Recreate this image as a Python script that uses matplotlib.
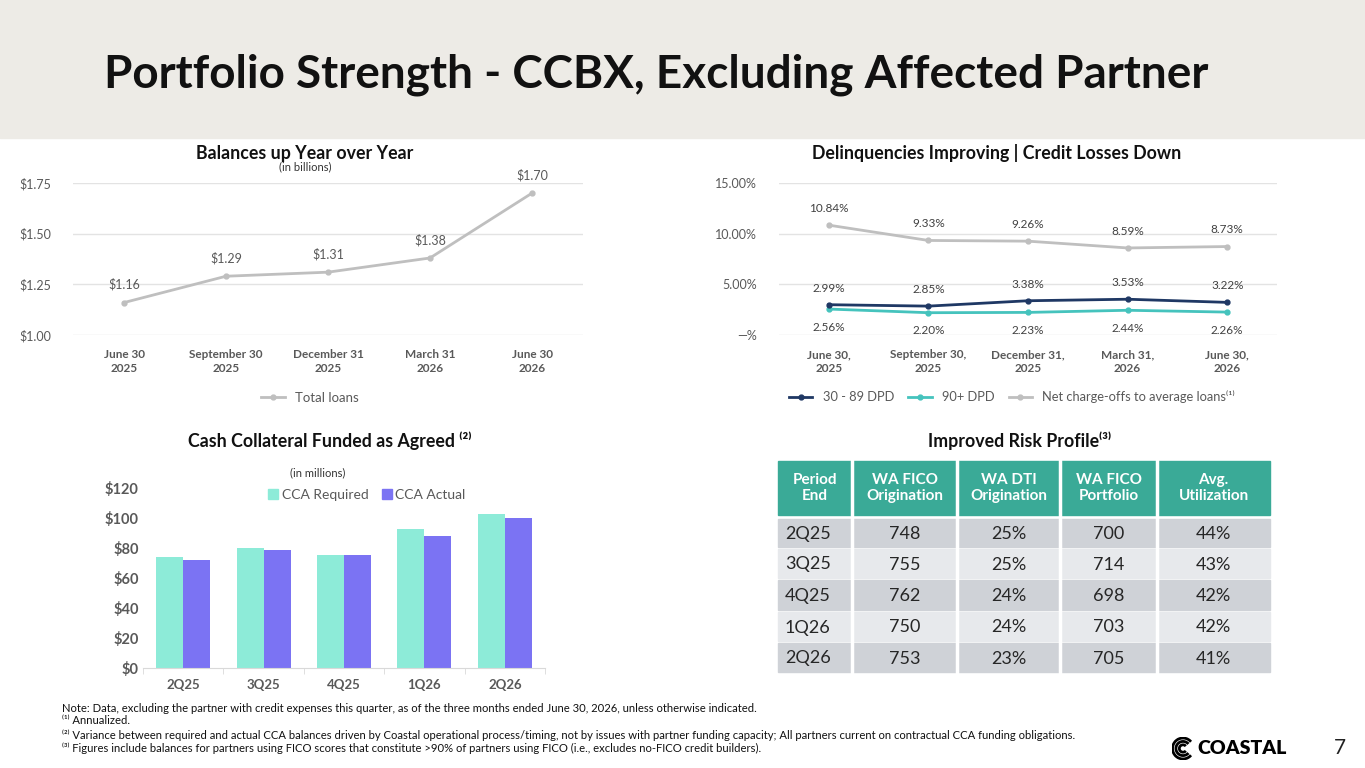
import numpy as np
import matplotlib
matplotlib.use('Agg')
from matplotlib import pyplot as plt
from matplotlib.patches import Rectangle, Arc, Patch
from matplotlib.lines import Line2D

plt.rcParams['font.family'] = ['Lato', 'DejaVu Sans']

# ---- data ----
bal_dates = ['June 30\n2025', 'September 30\n2025', 'December 31\n2025', 'March 31\n2026', 'June 30\n2026']
total_loans = [1.16, 1.29, 1.31, 1.38, 1.70]

dq_dates = ['June 30,\n2025', 'September 30,\n2025', 'December 31,\n2025', 'March 31,\n2026', 'June 30,\n2026']
dpd_30_89 = [2.99, 2.85, 3.38, 3.53, 3.22]
dpd_90 = [2.56, 2.20, 2.23, 2.44, 2.26]
nco = [10.84, 9.33, 9.26, 8.59, 8.73]

quarters = ['2Q25', '3Q25', '4Q25', '1Q26', '2Q26']
cca_required = [74, 80, 75.5, 93, 103]
cca_actual = [72, 78.5, 75.5, 88, 100]

tbl_header = ['Period\nEnd', 'WA FICO\nOrigination', 'WA DTI\nOrigination', 'WA FICO\nPortfolio', 'Avg.\nUtilization']
wa_fico_orig = ['748', '755', '762', '750', '753']
wa_dti_orig = ['25%', '25%', '24%', '24%', '23%']
wa_fico_port = ['700', '714', '698', '703', '705']
avg_util = ['44%', '43%', '42%', '42%', '41%']

footnotes = [
    'Note: Data, excluding the partner with credit expenses this quarter, as of the three months ended June 30, 2026, unless otherwise indicated.',
    '\u207d\u00b9\u207e Annualized.',
    '\u207d\u00b2\u207e Variance between required and actual CCA balances driven by Coastal operational process/timing, not by issues with partner funding capacity; All partners current on contractual CCA funding obligations.',
    '\u207d\u00b3\u207e Figures include balances for partners using FICO scores that constitute >90% of partners using FICO (i.e., excludes no-FICO credit builders).',
]

W, H = 1365, 768
fig = plt.figure(figsize=(W / 100, H / 100), dpi=100)
fig.patch.set_facecolor('white')


def ax_px(l, t, r, b):
    return fig.add_axes([l / W, 1 - b / H, (r - l) / W, (b - t) / H])


def txt(x, y, s, **kw):
    return fig.text(x / W, 1 - y / H, s, **kw)


# header band
fig.patches.append(Rectangle((0, 1 - 138 / H), 1, 138 / H, transform=fig.transFigure,
                             color='#EDEBE6', zorder=0))
txt(104, 75, 'Portfolio Strength - CCBX, Excluding Affected Partner', fontsize=33,
    fontweight='bold', color='#111111', va='center', ha='left')

grey_txt = '#595959'

# ---- chart 1: balances ----
ax1 = ax_px(73, 183, 583, 335)
x = np.arange(len(bal_dates))
ax1.plot(x, total_loans, color='#BFBFBF', lw=2, marker='o', ms=3.5, label='Total loans', clip_on=False)
for xi, v in zip(x, total_loans):
    ax1.annotate('$%.2f' % v, (xi, v), xytext=(0, 13), textcoords='offset points',
                 ha='center', va='center', fontsize=9, color=grey_txt)
ax1.set_xlim(-0.5, 4.5)
ax1.set_ylim(1.0, 1.75)
ax1.set_yticks([1.0, 1.25, 1.5, 1.75])
ax1.set_yticklabels(['$1.00', '$1.25', '$1.50', '$1.75'], fontsize=9, color=grey_txt)
ax1.set_xticks(x)
ax1.set_xticklabels(bal_dates, fontsize=8.5, color=grey_txt, fontweight='bold', linespacing=1.35)
ax1.tick_params(length=0, pad=10)
ax1.tick_params(axis='y', pad=16)
ax1.grid(axis='y', color='#E3E3E3', lw=1)
for s in ax1.spines.values():
    s.set_visible(False)
ax1.legend(loc='center', bbox_to_anchor=(310 / W, 1 - 398 / H), bbox_transform=fig.transFigure,
           frameon=False, fontsize=9.5, labelcolor=grey_txt, handlelength=1.8)
txt(305, 153, 'Balances up Year over Year', fontsize=12.8, fontweight='bold', ha='center', va='center', color='#111111')
txt(305, 167, '(in billions)', fontsize=8, ha='center', va='center', color='#333333')

# ---- chart 2: delinquencies ----
ax2 = ax_px(779, 183, 1277, 335)
x = np.arange(len(dq_dates))
c_dpd30 = '#1F3864'
c_dpd90 = '#45C3BD'
c_nco = '#BFBFBF'
ax2.plot(x, nco, color=c_nco, lw=2, marker='o', ms=3.5)
ax2.plot(x, dpd_90, color=c_dpd90, lw=2, marker='o', ms=3.5)
ax2.plot(x, dpd_30_89, color=c_dpd30, lw=2, marker='o', ms=3.5)
for xi in x:
    ax2.annotate('%.2f%%' % nco[xi], (xi, nco[xi]), xytext=(0, 12), textcoords='offset points',
                 ha='center', va='center', fontsize=8.5, color='#404040')
    ax2.annotate('%.2f%%' % dpd_30_89[xi], (xi, dpd_30_89[xi]), xytext=(0, 12), textcoords='offset points',
                 ha='center', va='center', fontsize=8.5, color='#404040')
    ax2.annotate('%.2f%%' % dpd_90[xi], (xi, dpd_90[xi]), xytext=(0, -13), textcoords='offset points',
                 ha='center', va='center', fontsize=8.5, color='#404040')
ax2.set_xlim(-0.5, 4.5)
ax2.set_ylim(0, 15)
ax2.set_yticks([0, 5, 10, 15])
ax2.set_yticklabels(['\u2014%', '5.00%', '10.00%', '15.00%'], fontsize=9, color=grey_txt)
ax2.set_xticks(x)
ax2.set_xticklabels(dq_dates, fontsize=8.5, color=grey_txt, fontweight='bold', linespacing=1.35)
ax2.tick_params(length=0, pad=10)
ax2.tick_params(axis='y', pad=16)
ax2.grid(axis='y', color='#E3E3E3', lw=1)
for s in ax2.spines.values():
    s.set_visible(False)
h2 = [Line2D([], [], color=c_dpd30, lw=2, marker='o', ms=3.5),
      Line2D([], [], color=c_dpd90, lw=2, marker='o', ms=3.5),
      Line2D([], [], color=c_nco, lw=2, marker='o', ms=3.5)]
ax2.legend(h2, ['30 - 89 DPD', '90+ DPD', 'Net charge-offs to average loans\u207d\u00b9\u207e'], loc='center',
           bbox_to_anchor=(1012 / W, 1 - 397 / H), bbox_transform=fig.transFigure, ncol=3,
           frameon=False, fontsize=9.3, labelcolor=grey_txt, handlelength=1.8, columnspacing=1.1)
txt(997, 153, 'Delinquencies Improving | Credit Losses Down', fontsize=12.8, fontweight='bold',
    ha='center', va='center', color='#111111')

# ---- chart 3: cash collateral ----
ax3 = ax_px(143, 488, 545, 668)
x = np.arange(len(quarters))
bw = 0.335
c_req = '#8DEBD8'
c_act = '#7B73F3'
ax3.bar(x - bw / 2, cca_required, bw, color=c_req)
ax3.bar(x + bw / 2, cca_actual, bw, color=c_act)
ax3.set_xlim(-0.5, 4.5)
ax3.set_ylim(0, 120)
ax3.set_yticks(np.arange(0, 121, 20))
ax3.set_yticklabels(['$%d' % v for v in np.arange(0, 121, 20)], fontsize=10.5, fontweight='bold', color=grey_txt)
ax3.set_xticks(x)
ax3.set_xticklabels(quarters, fontsize=9.5, fontweight='bold', color=grey_txt)
ax3.set_xticks(np.arange(-0.5, 5, 1), minor=True)
ax3.tick_params(axis='x', which='major', length=0, pad=8)
ax3.tick_params(axis='x', which='minor', length=4, color='#D9D9D9')
ax3.tick_params(axis='y', length=0, pad=3)
for k, s in ax3.spines.items():
    s.set_visible(k == 'bottom')
ax3.spines['bottom'].set_color('#D9D9D9')
h3 = [Patch(color=c_req), Patch(color=c_act)]
ax3.legend(h3, ['CCA Required', 'CCA Actual'], loc='center', bbox_to_anchor=(367 / W, 1 - 495 / H),
           bbox_transform=fig.transFigure, ncol=2, frameon=False, fontsize=10, labelcolor=grey_txt,
           handlelength=0.7, handleheight=0.7, handletextpad=0.25, columnspacing=1.0)
txt(330, 441, 'Cash Collateral Funded as Agreed \u207d\u00b2\u207e', fontsize=12.8, fontweight='bold',
    ha='center', va='center', color='#111111')
txt(318, 473, '(in millions)', fontsize=8, ha='center', va='center', color='#333333')

# ---- table: risk profile ----
tax = fig.add_axes([0, 0, 1, 1])
tax.set_xlim(0, W)
tax.set_ylim(H, 0)
tax.axis('off')
tax.patch.set_alpha(0)
col_edges = [778, 852, 957, 1060, 1157, 1270]
row_edges = [519, 549, 580, 612, 643, 674]
tax.add_patch(Rectangle((778, 461), 1270 - 778, 515 - 461, color='#3AAA97'))
for j in range(1, len(col_edges) - 1):
    tax.plot([col_edges[j], col_edges[j]], [461, 674], color='white', lw=2.5, zorder=3)
for j, hdr in enumerate(tbl_header):
    tax.text((col_edges[j] + col_edges[j + 1]) / 2, 488, hdr, ha='center', va='center', color='white',
             fontsize=11, fontweight='bold', linespacing=1.15)
rows = list(zip(quarters, wa_fico_orig, wa_dti_orig, wa_fico_port, avg_util))
for i, row in enumerate(rows):
    top, bot = row_edges[i], row_edges[i + 1]
    tax.add_patch(Rectangle((778, top), 1270 - 778, bot - top - 2,
                            color='#CFD2D7' if i % 2 == 0 else '#E7E9EC', zorder=1))
    for j, val in enumerate(row):
        if j == 0:
            tax.text(col_edges[0] + 7, (top + bot) / 2, val, ha='left', va='center', fontsize=13, color='#262626')
        else:
            tax.text((col_edges[j] + col_edges[j + 1]) / 2, (top + bot) / 2, val, ha='center', va='center',
                     fontsize=13, color='#262626')
txt(1020, 441, 'Improved Risk Profile\u207d\u00b3\u207e', fontsize=12.8, fontweight='bold', ha='center',
    va='center', color='#111111')

# ---- footnotes ----
for fy, line in zip([709, 721, 735, 748], footnotes):
    txt(62, fy, line, fontsize=8.1, ha='left', va='center', color='#111111')

# ---- logo + page number ----
lax = ax_px(1170, 737, 1196, 760)
lax.set_xlim(-1.1, 1.1)
lax.set_ylim(-1.1, 1.1)
lax.set_aspect('equal')
lax.axis('off')
for r in [2.0, 1.35, 0.7]:
    lax.add_patch(Arc((0, 0), r, r, theta1=40, theta2=320, lw=2, color='black'))
txt(1197, 748, 'COASTAL', fontsize=14, fontweight='heavy', ha='left', va='center', color='black')
txt(1340, 748, '7', fontsize=15, ha='center', va='center', color='#222222')

fig.savefig('out.png', dpi=100)
